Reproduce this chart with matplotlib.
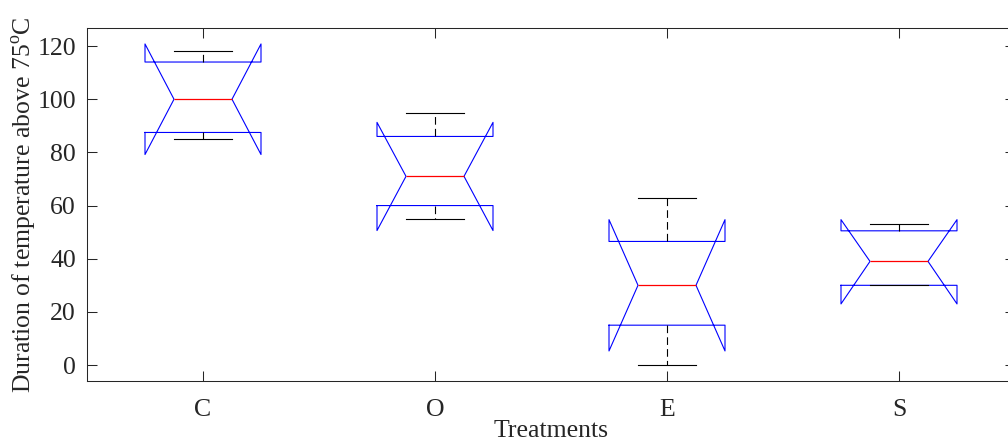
import matplotlib
matplotlib.use("Agg")
import matplotlib.pyplot as plt

plt.rcParams["font.family"] = "Liberation Serif"
plt.rcParams["mathtext.fontset"] = "custom"
plt.rcParams["mathtext.rm"] = "Liberation Serif"
plt.rcParams["lines.scale_dashes"] = False

# values (MATLAB style notched boxplot)
TREATMENTS = ["C", "O", "E", "S"]
MEDIANS = [100, 71, 30, 39]
Q1 = [87.5, 60, 15, 30]
Q3 = [114, 86, 46.5, 50.5]
WHISKER_LOW = [85, 55, 0, 30]
WHISKER_HIGH = [118, 95, 63, 53]
NOTCH_LOW = [79.2, 50.6, 5.3, 23]
NOTCH_HIGH = [120.8, 91.3, 54.7, 54.7]


def main():
    stats = []
    for i, name in enumerate(TREATMENTS):
        stats.append({
            "label": name,
            "med": MEDIANS[i],
            "q1": Q1[i],
            "q3": Q3[i],
            "whislo": WHISKER_LOW[i],
            "whishi": WHISKER_HIGH[i],
            "cilo": NOTCH_LOW[i],
            "cihi": NOTCH_HIGH[i],
            "fliers": [],
        })

    fig = plt.figure(figsize=(10.08, 4.43), dpi=100)
    ax = fig.add_axes([87 / 1008, 1 - 381 / 443, (1015 - 87) / 1008, (381 - 28) / 443])

    ax.bxp(
        stats,
        positions=range(1, len(TREATMENTS) + 1),
        widths=0.5,
        shownotches=True,
        showfliers=False,
        boxprops=dict(color="blue", linewidth=0.8),
        medianprops=dict(color="red", linewidth=0.9, zorder=3),
        whiskerprops=dict(color="black", linewidth=0.8, linestyle=(0, (5.5, 3))),
        capprops=dict(color="black", linewidth=0.8),
        capwidths=0.25,
    )

    ax.set_xlim(0.5, 4.5)
    ax.set_ylim(-6, 126.8)
    ax.set_yticks(range(0, 121, 20))
    ax.set_xticklabels(TREATMENTS)

    for s in ax.spines.values():
        s.set_color("#262626")
        s.set_linewidth(0.75)
    ax.tick_params(direction="in", length=7, width=0.75, colors="#262626",
                   labelcolor="#262626", labelsize=18.5, top=True, right=True)
    ax.tick_params(axis="x", pad=13)
    ax.tick_params(axis="y", pad=8)

    ax.set_xlabel("Treatments", fontsize=18.5, color="#262626", labelpad=-0.5)
    ax.set_ylabel("Duration of temperature above 75$^{\\mathrm{o}}$C",
                  fontsize=18.5, color="#262626", labelpad=-1.5)

    fig.savefig("out.png", dpi=100)


if __name__ == "__main__":
    main()
